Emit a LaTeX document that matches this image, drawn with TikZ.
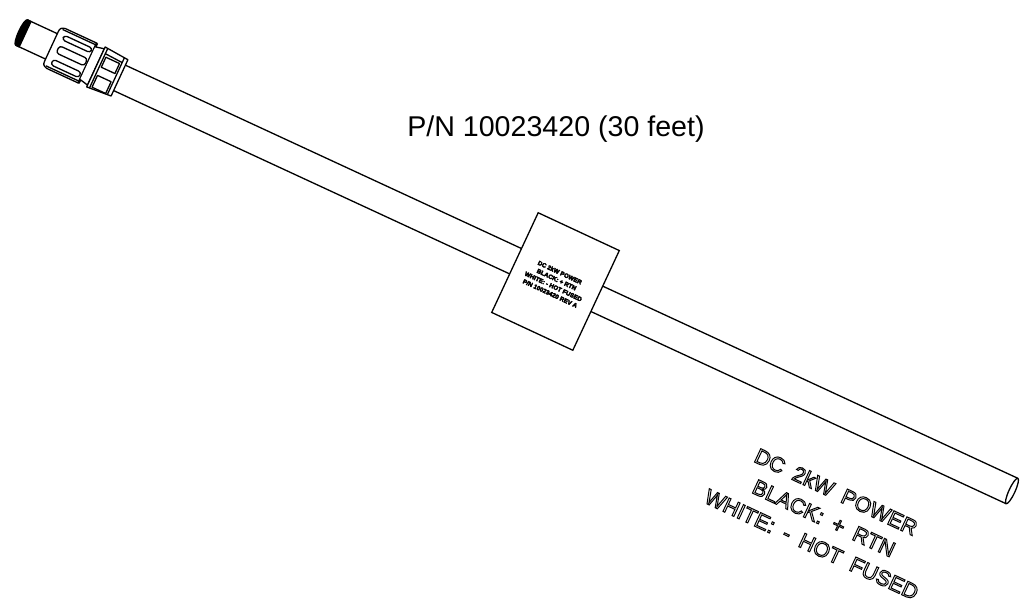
\documentclass[tikz,border=0pt]{standalone}
\usepackage{fontspec}
\setmainfont{Liberation Sans}
\usetikzlibrary{positioning}
\newcommand{\outlined}[1]{\special{pdf:code q 1 Tr 1 w}#1\special{pdf:code Q}}
\newcommand{\blobbed}[1]{\special{pdf:code q 2 Tr 0.35 w}#1\special{pdf:code Q}}
\begin{document}
\begin{tikzpicture}[x=1pt,y=-1pt]
    \tikzstyle{every node}=[inner sep=0]
    \tikzstyle{line}=[draw=black,line width=1.3pt,line join=round]
    \tikzstyle{note}=[draw=none,fill=none,align=center]
    \tikzstyle{tag}=[draw=black,fill=white,line width=1.3pt,rotate=-25,minimum width=89.5,minimum height=110]
    \useasboundingbox (0,0) rectangle (1032,611);
    {
        \begin{scope}[shift={(21.5,32.5)},rotate=-24.84]
            % plug
            \draw[line] (0,-14) -- (33,-14);
            \draw[line] (0,14) -- (33,14);
            \draw[line,fill=black] (0,-14) arc[start angle=90,end angle=270,x radius=3,y radius=-14] -- (4,14) -- (4,-14) -- cycle;
            % ribbed nut
            \draw[line,fill=white] (38,-22) -- (73,-22) -- (73,22) -- (38,22) .. controls (34,21) and (33,20) .. (33,16) -- (33,-16) .. controls (33,-20) and (34,-21) .. (38,-22) -- cycle;
            \draw[line] (36,-20) -- (72,-20);
            \draw[line] (36,20) -- (72,20);
            \foreach \rib/\wid in {-13/5,0/8,14/6} {
                \draw[line,rounded corners=3pt] (40,\rib-\wid/2) rectangle (71,\rib+\wid/2);
            }
            \draw[draw=black,line width=2.6pt] (73,-22) -- (73,22);
            % collar
            \draw[line,fill=white] (73,-18) -- (82,-20) -- (82,20) -- (73,18);
            % hex nut
            \draw[line,fill=white] (82,-22) -- (108,-20) -- (108,20) -- (82,22) -- cycle;
            \draw[line] (85,-21.5) -- (85,21.5);
            \draw[line] (104,-20.5) -- (104,20.5);
            \draw[line] (85,-16) -- (104,-15);
            \draw[line] (87,-13) rectangle (102,-2);
            \draw[line] (87,7) rectangle (102,20);
            % cable
            \draw[line] (108,-14) -- (1091.5,-14);
            \draw[line] (108,14) -- (1091.5,14);
            \draw[line] (1091.5,0) ellipse[x radius=3,y radius=14];
        \end{scope}
        \node[tag] (labelbox) at (555.5,281.5) {};
        \node[note,rotate=-25,font=\fontsize{6.1}{7.7}\selectfont\bfseries] (labeltext) at (555,283) {\blobbed{DC 2kW POWER}\\\blobbed{BLACK: + RTN}\\\blobbed{WHITE: - HOT FUSED}\\\blobbed{P/N 10023420 REV A}};
        \node[note,font=\fontsize{28.6}{34}\selectfont] (partno) at (556,129.5) {P/N 10023420 (30 feet)};
        \node[note,rotate=-25,font=\fontsize{21.5}{29}\selectfont] (legend) at (824,518) {\outlined{DC\hspace{0.5em}2kW\hspace{0.5em}POWER}\\\outlined{BLACK:\hspace{0.5em}+\hspace{0.5em}RTN}\\\outlined{WHITE:\hspace{0.5em}-\hspace{0.5em}HOT\hspace{0.5em}FUSED}};
    }
\end{tikzpicture}
\end{document}
